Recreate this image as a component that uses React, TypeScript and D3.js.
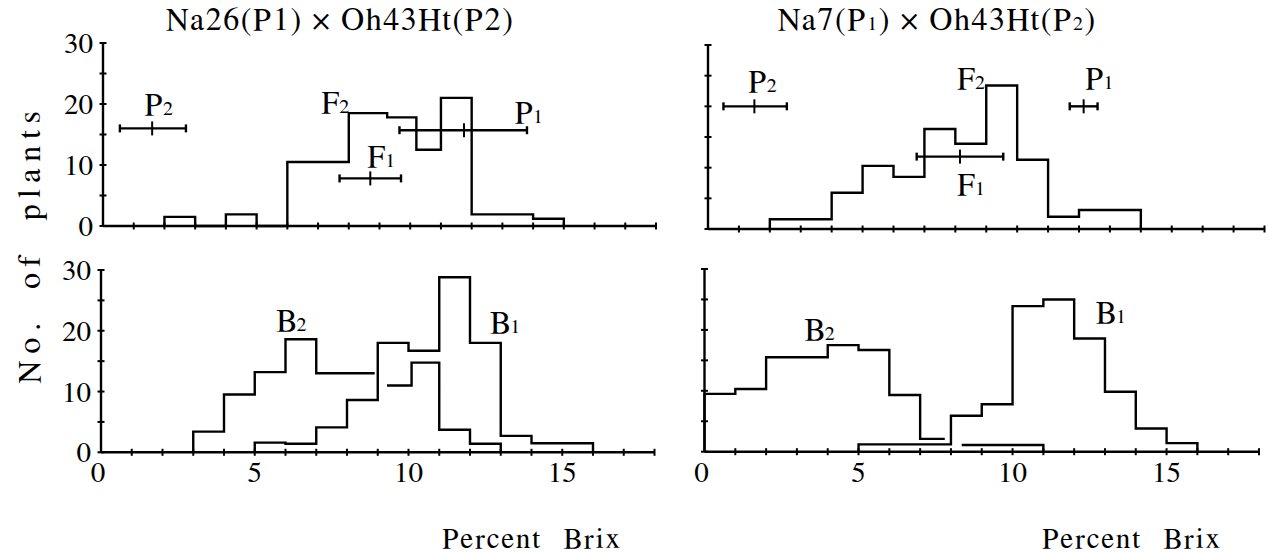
import * as d3 from 'd3';

const brixMax = 18;
const countMax = 30;
const xTickLabels = [0, 5, 10, 15];
const yTickLabels = [0, 10, 20, 30];

// Na26 x Oh43Ht : F2 (bin edges + counts)
const f2LeftEdges = [2, 3, 4, 5, 6, 7, 8, 9.25, 10.2, 11, 12, 13, 14, 15];
const f2LeftCounts = [1.5, 0, 1.9, 0, 10.5, 10.5, 18.5, 17.8, 12.5, 21, 1.9, 1.9, 1.2];

// Na26 x Oh43Ht : backcrosses
const b1LeftEdges = [5, 6, 7, 8, 9, 10, 11, 12, 13, 14, 15, 16];
const b1LeftCounts = [1.6, 1.4, 4.1, 8.6, 18, 16.7, 28.8, 18, 2.7, 1.5, 1.5];
const b2LeftEdgesA = [3, 4, 5, 6, 7, 8.9];
const b2LeftCountsA = [3.4, 9.5, 13.2, 18.6, 13];
const b2LeftEdgesB = [9.3, 10.1, 11, 12, 13];
const b2LeftCountsB = [11, 14.75, 3.7, 1.4];

// Na7 x Oh43Ht : F2
const f2RightEdges = [2, 3, 4, 5, 6, 7, 8, 9, 10, 11, 12, 13, 14];
const f2RightCounts = [1.6, 1.6, 5.9, 10.3, 8.5, 16.3, 13.9, 23.4, 11.3, 2.0, 3.1, 3.1];

// Na7 x Oh43Ht : backcrosses
const b1RightEdges = [5, 6, 7, 8, 9, 10, 11, 12, 13, 14, 15, 16];
const b1RightCounts = [1.2, 1.2, 1.2, 5.9, 7.8, 23.9, 25, 18.6, 9.85, 3.8, 1.4];
const b2RightEdgesA = [0, 1, 2, 3, 4, 5, 6, 7, 7.8];
const b2RightCountsA = [9.5, 10.3, 15.5, 15.5, 17.5, 16.7, 9.3, 2.1];
const b2RightEdgesB = [8.35, 9, 10, 11];
const b2RightCountsB = [1.1, 1.1, 1.1];

// parent / F1 means with ranges
const barsLeft = [
  { lo: 0.55, mean: 1.6, hi: 2.7, y: 16 },
  { lo: 7.7, mean: 8.7, hi: 9.7, y: 7.8 },
  { lo: 9.65, mean: 11.75, hi: 13.8, y: 15.7 },
];
const barsRight = [
  { lo: 0.5, mean: 1.5, hi: 2.55, y: 20 },
  { lo: 6.75, mean: 8.15, hi: 9.55, y: 11.8 },
  { lo: 11.7, mean: 12.15, hi: 12.6, y: 20 },
];

// curve labels: letter, subscript, position in data units
const labelsTL = [
  { t: 'P', s: '2', x: 1.35, y: 18.2 },
  { t: 'F', s: '2', x: 7.1, y: 18.5 },
  { t: 'F', s: '1', x: 8.6, y: 9.6 },
  { t: 'P', s: '1', x: 13.4, y: 16.9 },
];
const labelsTR = [
  { t: 'P', s: '2', x: 1.3, y: 22.3 },
  { t: 'F', s: '2', x: 8.05, y: 22.9 },
  { t: 'F', s: '1', x: 8.05, y: 5.5 },
  { t: 'P', s: '1', x: 12.2, y: 22.9 },
];
const labelsBL = [
  { t: 'B', s: '2', x: 5.7, y: 19.9 },
  { t: 'B', s: '1', x: 12.65, y: 19.7 },
];
const labelsBR = [
  { t: 'B', s: '2', x: 3.25, y: 18.3 },
  { t: 'B', s: '1', x: 12.7, y: 21.1 },
];

const font = 'FreeSerif, Liberation Serif, serif';
const sw = 2.4;

type Hist = { edges: number[]; counts: number[]; openStart?: boolean; openEnd?: boolean };
type Bar = { lo: number; mean: number; hi: number; y: number };
type Lab = { t: string; s: string; x: number; y: number };

const Panel = ({ px, py, hists, bars = [], labels, yLabels, xLabels }: {
  px: [number, number]; py: [number, number]; hists: Hist[]; bars?: Bar[]; labels: Lab[];
  yLabels: boolean; xLabels: boolean;
}) => {
  const x = d3.scaleLinear().domain([0, brixMax]).range(px);
  const y = d3.scaleLinear().domain([0, countMax]).range(py);
  const line = d3.line<[number, number]>().x((d) => x(d[0])).y((d) => y(d[1]));

  const stepPath = (h: Hist) => {
    const pts: [number, number][] = [];
    if (!h.openStart) pts.push([h.edges[0], 0]);
    h.counts.forEach((c, i) => {
      pts.push([h.edges[i], c]);
      pts.push([h.edges[i + 1], c]);
    });
    if (!h.openEnd) pts.push([h.edges[h.edges.length - 1], 0]);
    return line(pts) as string;
  };

  return (
    <g>
      {/* y axis */}
      <line x1={x(0)} x2={x(0)} y1={y(0)} y2={y(countMax)} stroke="#000" strokeWidth={sw} />
      {d3.range(0, countMax + 1, 5).map((v) => (
        <line key={'yt' + v} x1={x(0) - 3.5} x2={x(0) + 3.5} y1={y(v)} y2={y(v)} stroke="#000" strokeWidth={2} />
      ))}
      {yLabels && yTickLabels.map((v) => (
        <text key={'yl' + v} x={x(0) - 10} y={y(v)} dy="0.35em" textAnchor="end" fontSize={29} fontFamily={font}>{v}</text>
      ))}
      {/* x axis */}
      <line x1={x(0)} x2={x(brixMax)} y1={y(0)} y2={y(0)} stroke="#000" strokeWidth={sw} />
      {d3.range(1, brixMax + 1).map((v) => (
        <line key={'xt' + v} x1={x(v)} x2={x(v)} y1={y(0) - 3.5} y2={y(0) + 3.5} stroke="#000" strokeWidth={2} />
      ))}
      {xLabels && xTickLabels.map((v) => (
        <text key={'xl' + v} x={x(v) - (v === 0 ? 3 : 0)} y={y(0) + 30} textAnchor="middle" fontSize={29} fontFamily={font}>{v}</text>
      ))}
      {hists.map((h, i) => (
        <path key={'h' + i} d={stepPath(h)} fill="none" stroke="#000" strokeWidth={sw} strokeLinejoin="miter" />
      ))}
      {bars.map((b, i) => (
        <g key={'b' + i} stroke="#000" strokeWidth={sw}>
          <line x1={x(b.lo)} x2={x(b.hi)} y1={y(b.y)} y2={y(b.y)} />
          <line x1={x(b.lo)} x2={x(b.lo)} y1={y(b.y) - 4} y2={y(b.y) + 4} />
          <line x1={x(b.hi)} x2={x(b.hi)} y1={y(b.y) - 4} y2={y(b.y) + 4} />
          <line x1={x(b.mean)} x2={x(b.mean)} y1={y(b.y) - 7} y2={y(b.y) + 7} strokeWidth={2} />
        </g>
      ))}
      {labels.map((l, i) => (
        <text key={'l' + i} x={x(l.x)} y={y(l.y)} fontSize={32} fontFamily={font}>
          {l.t}
          <tspan fontSize={20}>{l.s}</tspan>
        </text>
      ))}
    </g>
  );
};

export default function App() {
  return (
    <svg width={1268} height={553} style={{ position: 'absolute', left: 0, top: 0, background: '#fff' }}>
      <rect width={1268} height={553} fill="#fff" />
      <text x={340} y={30} textAnchor="middle" fontSize={32} fontFamily={font} letterSpacing={1.5}>
        Na26(P1) × Oh43Ht(P2)
      </text>
      <text x={937} y={30} textAnchor="middle" fontSize={32} fontFamily={font} letterSpacing={1.5}>
        Na7(P<tspan fontSize={20}>1</tspan>) × Oh43Ht(P<tspan fontSize={20}>2</tspan>)
      </text>
      <text
        transform="translate(40,244) rotate(-90)"
        textAnchor="middle"
        fontSize={32}
        fontFamily={font}
        letterSpacing={7}
        wordSpacing={12}
      >
        No. of plants
      </text>

      <Panel
        px={[103, 656]}
        py={[226, 43]}
        hists={[{ edges: f2LeftEdges, counts: f2LeftCounts }]}
        bars={barsLeft}
        labels={labelsTL}
        yLabels
        xLabels={false}
      />
      <Panel
        px={[101, 654.5]}
        py={[452.3, 270]}
        hists={[
          { edges: b1LeftEdges, counts: b1LeftCounts },
          { edges: b2LeftEdgesA, counts: b2LeftCountsA, openEnd: true },
          { edges: b2LeftEdgesB, counts: b2LeftCountsB, openStart: true },
        ]}
        labels={labelsBL}
        yLabels
        xLabels
      />
      <Panel
        px={[708, 1264.5]}
        py={[229, 45]}
        hists={[{ edges: f2RightEdges, counts: f2RightCounts }]}
        bars={barsRight}
        labels={labelsTR}
        yLabels={false}
        xLabels={false}
      />
      <Panel
        px={[704.5, 1259]}
        py={[451.7, 269]}
        hists={[
          { edges: b1RightEdges, counts: b1RightCounts },
          { edges: b2RightEdgesA, counts: b2RightCountsA, openEnd: true },
          { edges: b2RightEdgesB, counts: b2RightCountsB, openStart: true },
        ]}
        labels={labelsBR}
        yLabels={false}
        xLabels
      />

      <text x={532} y={548} textAnchor="middle" fontSize={29} fontFamily={font} letterSpacing={2} wordSpacing={12}>
        Percent Brix
      </text>
      <text x={1132} y={548} textAnchor="middle" fontSize={29} fontFamily={font} letterSpacing={2} wordSpacing={12}>
        Percent Brix
      </text>
    </svg>
  );
}
